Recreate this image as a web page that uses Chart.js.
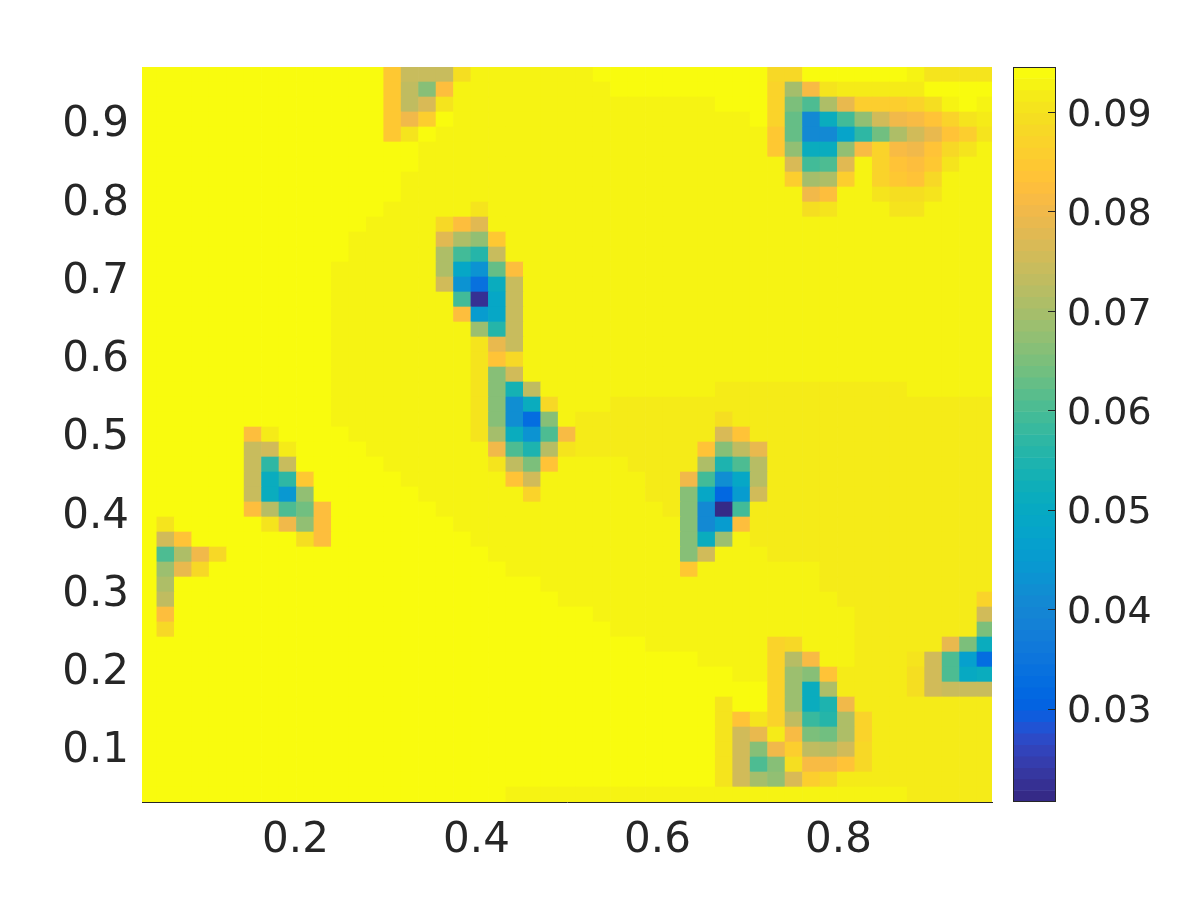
<!DOCTYPE html>
<html>
<head>
<meta charset="utf-8">
<title>heatmap</title>
<script src="https://cdn.jsdelivr.net/npm/chart.js@4/dist/chart.umd.min.js"></script>
<style>
body { margin: 0; background: #fff; }
canvas { position: absolute; top: 0; }
#chart { left: 0; }
#bar { left: 1000px; }
</style>
</head>
<body>
<canvas id="chart" width="1200" height="900"></canvas>
<canvas id="bar" width="200" height="900"></canvas>
<script>
// cell centres
const xValues = [0.0372,0.05648,0.07576,0.09504,0.11432,0.1336,0.15288,0.17216,0.19144,0.21072,0.23,0.24928,0.26856,0.28784,0.30712,0.3264,0.34568,0.36496,0.38424,0.40352,0.4228,0.44208,0.46136,0.48064,0.49992,0.5192,0.53848,0.55776,0.57704,0.59632,0.6156,0.63488,0.65416,0.67344,0.69272,0.712,0.73128,0.75056,0.76984,0.78912,0.8084,0.82768,0.84696,0.86624,0.88552,0.9048,0.92408,0.94336,0.96264];
const yValues = [0.04,0.05917,0.07833,0.0975,0.11667,0.13583,0.155,0.17417,0.19333,0.2125,0.23167,0.25083,0.27,0.28917,0.30833,0.3275,0.34667,0.36583,0.385,0.40417,0.42333,0.4425,0.46167,0.48083,0.5,0.51917,0.53833,0.5575,0.57667,0.59583,0.615,0.63417,0.65333,0.6725,0.69167,0.71083,0.73,0.74917,0.76833,0.7875,0.80667,0.82583,0.845,0.86417,0.88333,0.9025,0.92167,0.94083,0.96];
const halfCell = 0.00958;
const axisMin = 0.03042;
const axisMax = 0.96958;
const colorMin = 0.0206;
const colorMax = 0.0945;

// values, in thousandths, top row first
const heatRows = [
[94,94,94,94,94,94,94,94,94,94, 94,94,94,94,85,74,74,74,89,93, 93,93,93,93,93,93,94,94,94,94, 94,94,94,94,94,94,88,88,94,94, 94,94,94,94,93,91,91,91,91],
[94,94,94,94,94,94,94,94,94,94, 94,94,94,94,85,73,66,82,93,93, 93,93,93,93,93,93,93,94,94,94, 94,94,94,94,94,94,87,70,81,91, 92,92,92,92,92,94,94,94,94],
[94,94,94,94,94,94,94,94,94,94, 94,94,94,94,85,73,77,91,93,93, 93,93,93,93,93,93,93,93,93,93, 93,93,93,94,94,94,87,65,60,71, 79,86,86,86,87,89,93,94,93],
[94,94,94,94,94,94,94,94,94,94, 94,94,94,94,85,80,86,94,93,93, 93,93,93,93,93,93,93,93,93,93, 93,93,93,93,93,94,87,63,41,51, 59,67,75,80,81,84,87,90,92],
[94,94,94,94,94,94,94,94,94,94, 94,94,94,94,85,90,94,93,93,93, 93,93,93,93,93,93,93,93,93,93, 93,93,93,93,93,93,85,63,41,41, 48,57,64,71,75,79,83,86,90],
[94,94,94,94,94,94,94,94,94,94, 94,94,94,94,94,94,93,93,93,93, 93,93,93,93,93,93,93,93,93,93, 93,93,93,93,93,93,85,67,51,51, 67,81,87,81,80,83,88,91,93],
[94,94,94,94,94,94,94,94,94,94, 94,94,94,94,94,94,93,93,93,93, 93,93,93,93,93,93,93,93,93,93, 93,93,93,93,93,93,93,77,59,61, 78,93,87,83,82,85,90,93,93],
[94,94,94,94,94,94,94,94,94,94, 94,94,94,94,94,93,93,93,93,93, 93,93,93,93,93,93,93,93,93,93, 93,93,93,93,93,93,93,86,70,71, 86,93,87,85,83,88,93,93,93],
[94,94,94,94,94,94,94,94,94,94, 94,94,94,94,94,93,93,93,93,93, 93,93,93,93,93,93,93,93,93,93, 93,93,93,93,93,93,93,93,80,82, 93,93,90,89,89,91,93,93,93],
[94,94,94,94,94,94,94,94,94,94, 94,94,94,94,93,93,93,93,93,90, 93,93,93,93,93,93,93,93,93,93, 93,93,93,93,93,93,93,93,89,91, 93,93,93,91,90,93,93,93,93],
[94,94,94,94,94,94,94,94,94,94, 94,94,94,93,93,93,93,88,82,78, 93,93,93,93,93,93,93,93,93,93, 93,93,93,93,93,93,93,93,93,93, 93,93,93,93,93,93,93,93,93],
[94,94,94,94,94,94,94,94,94,94, 94,94,93,93,93,93,93,78,71,67, 85,93,93,93,93,93,93,93,93,93, 93,93,93,93,93,93,93,93,93,93, 93,93,93,93,93,93,93,93,93],
[94,94,94,94,94,94,94,94,94,94, 94,94,93,93,93,93,93,71,59,56, 74,93,93,93,93,93,93,93,93,93, 93,93,93,93,93,93,93,93,93,93, 93,93,93,93,93,93,93,93,93],
[94,94,94,94,94,94,94,94,94,94, 94,93,93,93,93,93,93,71,49,43, 63,82,93,93,93,93,93,93,93,93, 93,93,93,93,93,93,93,93,93,93, 93,93,93,93,93,93,93,93,93],
[94,94,94,94,94,94,94,94,94,94, 94,93,93,93,93,93,93,76,43,34, 51,74,93,93,93,93,93,93,93,93, 93,93,93,93,93,93,93,93,93,93, 93,93,93,93,93,93,93,93,93],
[94,94,94,94,94,94,94,94,94,94, 94,93,93,93,93,93,93,93,59,22, 49,74,93,93,93,93,93,93,93,93, 93,93,93,93,93,93,93,93,93,93, 93,93,93,93,93,93,93,93,93],
[94,94,94,94,94,94,94,94,94,94, 94,93,93,93,93,93,93,93,82,45, 49,74,93,93,93,93,93,93,93,93, 93,93,93,93,93,93,93,93,93,93, 93,93,93,93,93,93,93,93,93],
[94,94,94,94,94,94,94,94,94,94, 94,93,93,93,93,93,93,93,93,68, 56,74,93,93,93,93,93,93,93,93, 93,93,93,93,93,93,93,93,93,93, 93,93,93,93,93,93,93,93,93],
[94,94,94,94,94,94,94,94,94,94, 94,93,93,93,93,93,93,93,93,90, 79,74,93,93,93,93,93,93,93,93, 93,93,93,93,93,93,93,93,93,93, 93,93,93,93,93,93,93,93,93],
[94,94,94,94,94,94,94,94,94,94, 94,93,93,93,93,93,93,93,93,90, 84,88,93,93,93,93,93,93,93,93, 93,93,93,93,93,93,93,93,93,93, 93,93,93,93,93,93,93,93,93],
[94,94,94,94,94,94,94,94,94,94, 94,93,93,93,93,93,93,93,93,90, 66,76,93,93,93,93,93,93,93,93, 93,93,93,93,93,93,93,93,93,93, 93,93,93,93,93,93,93,93,93],
[94,94,94,94,94,94,94,94,94,94, 94,93,93,93,93,93,93,93,93,90, 66,53,73,93,93,93,93,93,93,93, 93,93,93,92,92,92,92,92,92,92, 92,92,92,92,93,93,93,93,93],
[94,94,94,94,94,94,94,94,94,94, 94,93,93,93,93,93,93,93,93,90, 66,42,51,88,93,93,93,92,92,92, 92,92,92,92,92,92,92,92,92,92, 92,92,92,92,92,92,92,92,92],
[94,94,94,94,94,94,94,94,94,94, 94,93,93,93,93,93,93,93,93,90, 66,42,33,66,93,92,92,92,92,92, 92,92,92,89,92,92,92,92,92,92, 92,92,92,92,92,92,92,92,92],
[94,94,94,94,94,94,82,92,94,94, 94,94,93,93,93,93,93,93,93,90, 70,51,43,61,81,92,92,92,92,92, 92,92,92,77,84,92,92,92,92,92, 92,92,92,92,92,92,92,92,92],
[94,94,94,94,94,94,74,76,92,94, 94,94,94,93,93,93,93,93,93,93, 80,61,55,72,90,92,92,92,92,92, 92,92,83,66,73,79,92,92,92,92, 92,92,92,92,92,92,92,92,92],
[94,94,94,94,94,94,74,57,74,94, 94,94,94,94,93,93,93,93,93,93, 90,73,65,84,93,93,93,93,92,92, 92,92,71,55,61,72,92,92,92,92, 92,92,92,92,92,92,92,92,92],
[94,94,94,94,94,94,74,51,57,85, 94,94,94,94,94,93,93,93,93,93, 93,84,75,93,93,93,93,93,93,92, 92,80,59,42,49,72,92,92,92,92, 92,92,92,92,92,92,92,92,92],
[94,94,94,94,94,94,74,51,44,67, 94,94,94,94,94,94,93,93,93,93, 93,93,87,93,93,93,93,93,93,92, 92,66,49,31,45,75,92,92,92,92, 92,92,92,92,92,92,92,92,92],
[94,94,94,94,94,94,82,72,60,64, 82,94,94,94,94,94,94,93,93,93, 93,93,93,93,93,93,93,93,93,93, 92,66,41,21,59,92,92,92,92,92, 92,92,92,92,92,92,92,92,92],
[94,90,94,94,94,94,94,90,80,67, 82,94,94,94,94,94,94,94,93,93, 93,93,93,93,93,93,93,93,93,93, 93,66,41,45,82,92,92,92,92,92, 92,92,92,92,92,92,92,92,92],
[94,76,84,94,94,94,94,94,94,89, 82,94,94,94,94,94,94,94,94,93, 93,93,93,93,93,93,93,93,93,93, 93,66,51,69,93,92,92,92,92,92, 92,92,92,92,92,92,92,92,92],
[94,61,71,80,88,94,94,94,94,94, 94,94,94,94,94,94,94,94,94,94, 93,93,93,93,93,93,93,93,93,93, 93,66,75,93,93,93,92,92,92,92, 92,92,92,92,92,92,92,92,92],
[94,69,79,88,94,94,94,94,94,94, 94,94,94,94,94,94,94,94,94,94, 94,93,93,93,93,93,93,93,93,93, 93,85,93,93,93,93,93,93,93,92, 92,92,92,92,92,92,92,92,92],
[94,71,94,94,94,94,94,94,94,94, 94,94,94,94,94,94,94,94,94,94, 94,94,94,93,93,93,93,93,93,93, 93,93,93,93,93,93,93,93,93,92, 92,92,92,92,92,92,92,92,92],
[94,73,94,94,94,94,94,94,94,94, 94,94,94,94,94,94,94,94,94,94, 94,94,94,94,93,93,93,93,93,93, 93,93,93,93,93,93,93,93,93,93, 92,92,92,92,92,92,92,92,87],
[94,82,94,94,94,94,94,94,94,94, 94,94,94,94,94,94,94,94,94,94, 94,94,94,94,94,94,93,93,93,93, 93,93,93,93,93,93,93,93,93,93, 93,92,92,92,92,92,92,92,76],
[94,88,94,94,94,94,94,94,94,94, 94,94,94,94,94,94,94,94,94,94, 94,94,94,94,94,94,94,93,93,93, 93,93,93,93,93,93,93,93,93,93, 93,92,92,92,92,92,92,92,65],
[94,94,94,94,94,94,94,94,94,94, 94,94,94,94,94,94,94,94,94,94, 94,94,94,94,94,94,94,94,94,93, 93,93,93,93,93,93,87,88,93,93, 93,92,92,92,92,92,79,65,51],
[94,94,94,94,94,94,94,94,94,94, 94,94,94,94,94,94,94,94,94,94, 94,94,94,94,94,94,94,94,94,94, 94,94,93,93,93,93,87,72,81,93, 93,92,92,92,90,75,61,47,33],
[94,94,94,94,94,94,94,94,94,94, 94,94,94,94,94,94,94,94,94,94, 94,94,94,94,94,94,94,94,94,94, 94,94,94,94,93,93,87,69,66,84, 92,92,92,92,89,75,61,50,51],
[94,94,94,94,94,94,94,94,94,94, 94,94,94,94,94,94,94,94,94,94, 94,94,94,94,94,94,94,94,94,94, 94,94,94,94,94,94,87,69,51,71, 92,92,92,92,89,75,74,74,74],
[94,94,94,94,94,94,94,94,94,94, 94,94,94,94,94,94,94,94,94,94, 94,94,94,94,94,94,94,94,94,94, 94,94,94,90,94,94,87,69,51,55, 80,92,92,92,92,92,92,92,92],
[94,94,94,94,94,94,94,94,94,94, 94,94,94,94,94,94,94,94,94,94, 94,94,94,94,94,94,94,94,94,94, 94,94,94,90,84,90,87,73,58,56, 71,87,92,92,92,92,92,92,92],
[94,94,94,94,94,94,94,94,94,94, 94,94,94,94,94,94,94,94,94,94, 94,94,94,94,94,94,94,94,94,94, 94,94,94,90,75,79,92,81,65,64, 71,87,92,92,92,92,92,92,92],
[94,94,94,94,94,94,94,94,94,94, 94,94,94,94,94,94,94,94,94,94, 94,94,94,94,94,94,94,94,94,94, 94,94,94,90,75,66,80,86,73,72, 76,88,92,92,92,92,92,92,92],
[94,94,94,94,94,94,94,94,94,94, 94,94,94,94,94,94,94,94,94,94, 94,94,94,94,94,94,94,94,94,94, 94,94,94,90,75,61,66,89,81,81, 83,88,92,92,92,92,92,92,92],
[94,94,94,94,94,94,94,94,94,94, 94,94,94,94,94,94,94,94,94,94, 94,94,94,94,94,94,94,94,94,94, 94,94,94,90,75,70,67,77,86,88, 92,92,92,92,92,92,92,92,92],
[94,94,94,94,94,94,94,94,94,94, 94,94,94,94,94,94,94,94,94,94, 94,93,93,93,93,93,93,93,93,93, 93,93,93,93,93,93,93,93,93,93, 93,93,93,93,92,92,92,92,92]
];

const parula = [
[0.2081,0.1663,0.5292],[0.2116,0.1898,0.5777],[0.2123,0.2138,0.6270],[0.2081,0.2386,0.6771],
[0.1959,0.2645,0.7279],[0.1707,0.2919,0.7792],[0.1253,0.3242,0.8303],[0.0591,0.3598,0.8683],
[0.0117,0.3875,0.8820],[0.0060,0.4086,0.8828],[0.0165,0.4266,0.8786],[0.0329,0.4430,0.8720],
[0.0498,0.4586,0.8641],[0.0629,0.4737,0.8554],[0.0723,0.4887,0.8467],[0.0779,0.5040,0.8384],
[0.0793,0.5200,0.8312],[0.0749,0.5375,0.8263],[0.0641,0.5570,0.8240],[0.0488,0.5772,0.8228],
[0.0343,0.5966,0.8199],[0.0265,0.6137,0.8135],[0.0239,0.6287,0.8038],[0.0231,0.6418,0.7913],
[0.0228,0.6535,0.7768],[0.0267,0.6642,0.7607],[0.0384,0.6743,0.7436],[0.0590,0.6838,0.7254],
[0.0843,0.6928,0.7062],[0.1133,0.7015,0.6859],[0.1453,0.7098,0.6646],[0.1801,0.7177,0.6424],
[0.2178,0.7250,0.6193],[0.2586,0.7317,0.5954],[0.3022,0.7376,0.5712],[0.3482,0.7424,0.5473],
[0.3953,0.7459,0.5244],[0.4420,0.7481,0.5033],[0.4871,0.7491,0.4840],[0.5300,0.7491,0.4661],
[0.5709,0.7485,0.4494],[0.6099,0.7473,0.4337],[0.6473,0.7456,0.4188],[0.6834,0.7435,0.4044],
[0.7184,0.7411,0.3905],[0.7525,0.7384,0.3768],[0.7858,0.7356,0.3633],[0.8185,0.7327,0.3498],
[0.8507,0.7299,0.3360],[0.8824,0.7274,0.3217],[0.9139,0.7258,0.3063],[0.9450,0.7261,0.2886],
[0.9739,0.7314,0.2666],[0.9938,0.7455,0.2403],[0.9990,0.7653,0.2164],[0.9955,0.7861,0.1967],
[0.9880,0.8066,0.1794],[0.9789,0.8271,0.1633],[0.9697,0.8481,0.1475],[0.9626,0.8705,0.1309],
[0.9589,0.8949,0.1132],[0.9598,0.9218,0.0948],[0.9661,0.9514,0.0755],[0.9763,0.9831,0.0538]
];

const inkColor = '#262626';
const axisFont = { family: '"DejaVu Sans"', size: 42 };
const barFont = { family: '"DejaVu Sans"', size: 38 };
const levelStep = (colorMax - colorMin) / parula.length;

function levelColor(level) {
    const c = parula[level];
    return `rgb(${Math.round(c[0]*255)},${Math.round(c[1]*255)},${Math.round(c[2]*255)})`;
}

function valueColor(value) {
    let level = Math.floor((value - colorMin) / levelStep);
    level = Math.max(0, Math.min(parula.length - 1, level));
    return levelColor(level);
}

// y labels sit a little below the tick in the original
const labelNudge = {
    id: 'labelNudge',
    beforeDraw(chart) {
        chart.scales.y.getLabelItems().forEach(item => {
            item.options.translation[1] += 4;
        });
    }
};

// one floating bar per cell
const cells = [];
const cellColors = [];
heatRows.forEach((row, r) => {
    const yCenter = yValues[yValues.length - 1 - r];
    row.forEach((v, c) => {
        cells.push({ x: xValues[c], y: [yCenter - halfCell, yCenter + halfCell] });
        cellColors.push(valueColor(v / 1000));
    });
});

new Chart(document.getElementById('chart'), {
    type: 'bar',
    data: {
        datasets: [{
            data: cells,
            backgroundColor: cellColors,
            borderWidth: 0,
            barPercentage: 1,
            categoryPercentage: 1
        }]
    },
    options: {
        responsive: false,
        animation: false,
        layout: { padding: { top: 67, right: 208, left: 0, bottom: 0 } },
        plugins: { legend: { display: false }, tooltip: { enabled: false } },
        scales: {
            x: {
                type: 'linear',
                offset: false,
                min: axisMin,
                max: axisMax,
                afterFit: s => { s.height = 98; },
                grid: { display: false, drawTicks: false },
                border: { display: true, color: inkColor, width: 1, z: 1 },
                ticks: {
                    stepSize: 0.2,
                    includeBounds: false,
                    maxRotation: 0,
                    autoSkip: false,
                    padding: 14,
                    color: inkColor,
                    font: axisFont,
                    callback: v => v.toFixed(1)
                }
            },
            y: {
                type: 'linear',
                min: axisMin,
                max: axisMax,
                afterFit: s => { s.width = 142; },
                grid: { display: false, drawTicks: false },
                border: { display: false },
                ticks: {
                    stepSize: 0.1,
                    includeBounds: false,
                    autoSkip: false,
                    padding: 13,
                    color: inkColor,
                    font: axisFont,
                    callback: v => v.toFixed(1)
                }
            }
        }
    },
    plugins: [labelNudge]
});

// colorbar
const barLevels = [];
const barColors = [];
parula.forEach((c, i) => {
    barLevels.push({ x: 'c', y: [colorMin + i * levelStep, colorMin + (i + 1) * levelStep] });
    barColors.push(levelColor(i));
});

const barFrame = {
    id: 'barFrame',
    afterDatasetsDraw(chart) {
        const { ctx, chartArea: a, scales } = chart;
        ctx.save();
        ctx.strokeStyle = inkColor;
        ctx.lineWidth = 1;
        ctx.strokeRect(a.left + 0.5, a.top + 0.5, a.right - a.left - 1, a.bottom - a.top - 1);
        scales.y.ticks.forEach((t, i) => {
            const py = Math.round(scales.y.getPixelForTick(i)) + 0.5;
            ctx.beginPath();
            ctx.moveTo(a.right - 8, py);
            ctx.lineTo(a.right, py);
            ctx.stroke();
        });
        ctx.restore();
    }
};

new Chart(document.getElementById('bar'), {
    type: 'bar',
    data: {
        labels: ['c'],
        datasets: [{
            data: barLevels,
            backgroundColor: barColors,
            borderWidth: 0,
            barPercentage: 1,
            categoryPercentage: 1
        }]
    },
    options: {
        responsive: false,
        animation: false,
        layout: { padding: { top: 67, left: 13, right: 0, bottom: 0 } },
        plugins: { legend: { display: false }, tooltip: { enabled: false } },
        scales: {
            x: {
                display: true,
                afterFit: s => { s.height = 98; },
                grid: { display: false, drawTicks: false },
                border: { display: false },
                ticks: { display: false }
            },
            y: {
                type: 'linear',
                position: 'right',
                min: colorMin,
                max: colorMax,
                afterFit: s => { s.width = 144; },
                grid: { display: false, drawTicks: false },
                border: { display: false },
                ticks: {
                    stepSize: 0.01,
                    includeBounds: false,
                    autoSkip: false,
                    padding: 11,
                    color: inkColor,
                    font: barFont,
                    callback: v => v.toFixed(2)
                }
            }
        }
    },
    plugins: [barFrame, labelNudge]
});
</script>
</body>
</html>
